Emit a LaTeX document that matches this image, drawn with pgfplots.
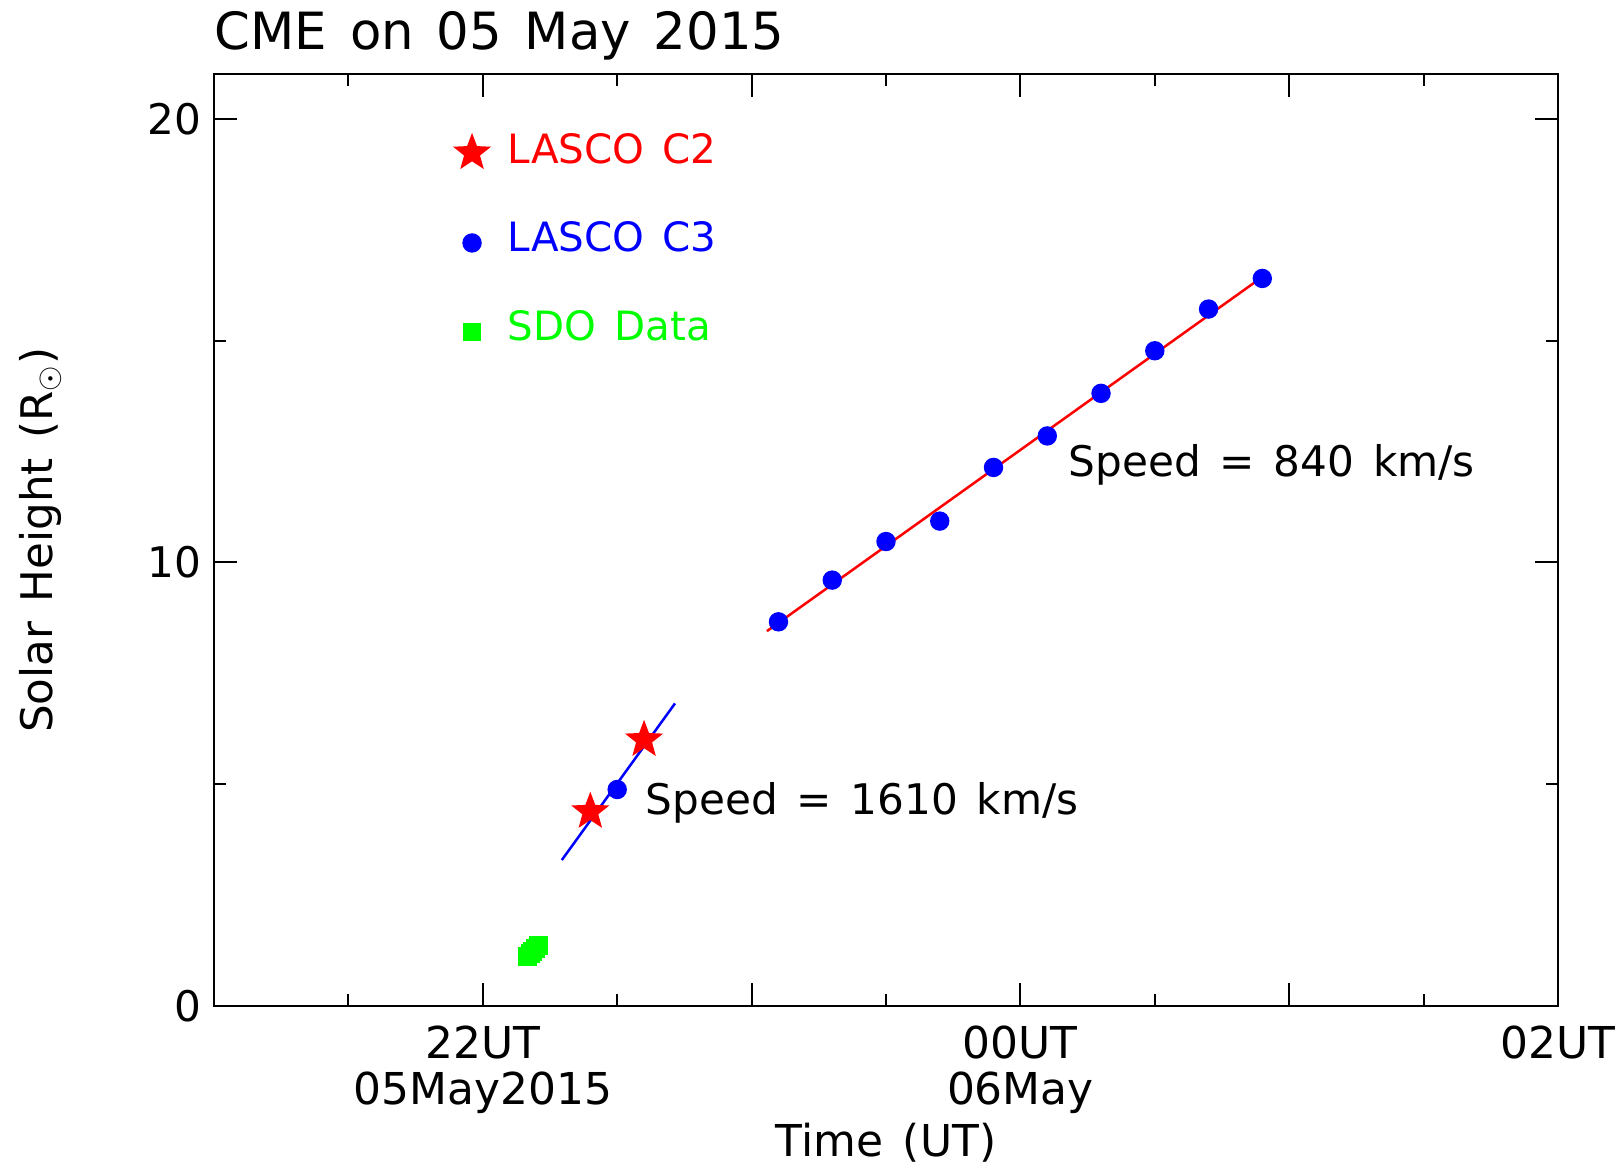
\documentclass[border=0pt]{standalone}
\usepackage{pgfplots}
\pgfplotsset{compat=1.18}
\usepackage{fontspec}
\setmainfont{DejaVu Sans}[WordSpace=1.4]
\pgfdeclareplotmark{fstar}{%
  \pgfpathmoveto{\pgfpointpolar{90}{\pgfplotmarksize}}%
  \pgfpathlineto{\pgfpointpolar{126}{0.42\pgfplotmarksize}}%
  \pgfpathlineto{\pgfpointpolar{162}{\pgfplotmarksize}}%
  \pgfpathlineto{\pgfpointpolar{198}{0.42\pgfplotmarksize}}%
  \pgfpathlineto{\pgfpointpolar{234}{\pgfplotmarksize}}%
  \pgfpathlineto{\pgfpointpolar{270}{0.42\pgfplotmarksize}}%
  \pgfpathlineto{\pgfpointpolar{306}{\pgfplotmarksize}}%
  \pgfpathlineto{\pgfpointpolar{342}{0.42\pgfplotmarksize}}%
  \pgfpathlineto{\pgfpointpolar{18}{\pgfplotmarksize}}%
  \pgfpathlineto{\pgfpointpolar{54}{0.42\pgfplotmarksize}}%
  \pgfpathclose
  \pgfusepathqfillstroke
}
\pgfplotstableread{
x y
-0.9 8.66
-0.7 9.60
-0.5 10.47
-0.3 10.93
-0.1 12.14
0.1 12.85
0.3 13.81
0.5 14.77
0.7 15.71
0.9 16.40
-1.5 4.88
}\cthree
\pgfplotstableread{
x y
-1.6 4.38
-1.4 6.00
}\ctwo
\pgfplotstableread{
x y
-1.833 1.107
-1.823 1.173
-1.814 1.239
-1.804 1.305
-1.794 1.371
}\sdo
\begin{document}
\begin{tikzpicture}
\useasboundingbox (-21.4mm,-16.4mm) rectangle (140.9mm,100.6mm);
\begin{axis}[
  at={(0,0)}, anchor=south west,
  scale only axis, width=134.4mm, height=93.16mm,
  xmin=-3, xmax=2, ymin=0, ymax=21,
  clip=false,
  axis line style={line width=0.22mm},
  tick style={black, line width=0.2mm},
  tick align=inside,
  major tick length=2.3mm, minor tick length=1.2mm,
  xtick={-2,-1,0,1,2},
  xticklabels={{22UT\\05May2015},{},{00UT\\06May},{},{02UT}},
  minor xtick={-2.5,-1.5,-0.5,0.5,1.5},
  ytick={0,10,20}, yticklabels={0,10,20},
  minor ytick={5,15},
  /pgf/number format/assume math mode=true,
  xticklabel style={align=center, inner sep=0pt, yshift=-1.9mm, font=\fontsize{12.5}{13.1}\selectfont},
  yticklabel style={inner sep=0pt, xshift=-1.2mm, font=\fontsize{12}{13}\selectfont},
  xlabel={Time (UT)},
  xlabel style={at={(axis description cs:0.5,0)}, anchor=base, yshift=-15.1mm, font=\fontsize{12.5}{14}\selectfont},
  ylabel={Solar Height (R$_{\odot}$)},
  ylabel style={at={(axis description cs:-0.1205,0.5)}, anchor=base, rotate=0, font=\fontsize{12.4}{14}\selectfont},
]
\addplot[only marks, mark=*, mark size=0.9mm, color=blue] table {\cthree};
\addplot[only marks, mark=fstar, mark size=1.8mm, color=red] table {\ctwo};
\addplot[only marks, mark=square*, mark size=0.88mm, color=green] table {\sdo};
\addplot[red, line width=0.25mm] coordinates {(-0.943,8.45) (0.906,16.46)};
\addplot[blue, line width=0.25mm] coordinates {(-1.706,3.29) (-1.285,6.82)};
% legend markers
\addplot[only marks, mark=fstar, mark size=1.8mm, color=red] coordinates {(-2.04,19.23)};
\addplot[only marks, mark=*, mark size=0.9mm, color=blue] coordinates {(-2.04,17.20)};
\addplot[only marks, mark=square*, mark size=0.82mm, color=green] coordinates {(-2.04,15.20)};
\node[anchor=base west, inner sep=0pt, text=red, font=\fontsize{11.5}{13}\selectfont] at (axis cs:-1.91,19) {LASCO C2};
\node[anchor=base west, inner sep=0pt, text=blue, font=\fontsize{11.5}{13}\selectfont] at (axis cs:-1.91,17) {LASCO C3};
\node[anchor=base west, inner sep=0pt, text=green, font=\fontsize{11.5}{13}\selectfont] at (axis cs:-1.91,15) {SDO Data};
\node[anchor=base west, inner sep=0pt, font=\fontsize{12}{13}\selectfont] at (axis cs:0.177,11.93) {Speed = 840 km/s};
\node[anchor=base west, inner sep=0pt, font=\fontsize{12}{13}\selectfont] at (axis cs:-1.397,4.31) {Speed = 1610 km/s};
\node[anchor=base west, inner sep=0pt, font=\fontsize{14.6}{16}\selectfont] at ([yshift=2.45mm]rel axis cs:0,1) {CME on 05 May 2015};
\end{axis}
\end{tikzpicture}
\end{document}
